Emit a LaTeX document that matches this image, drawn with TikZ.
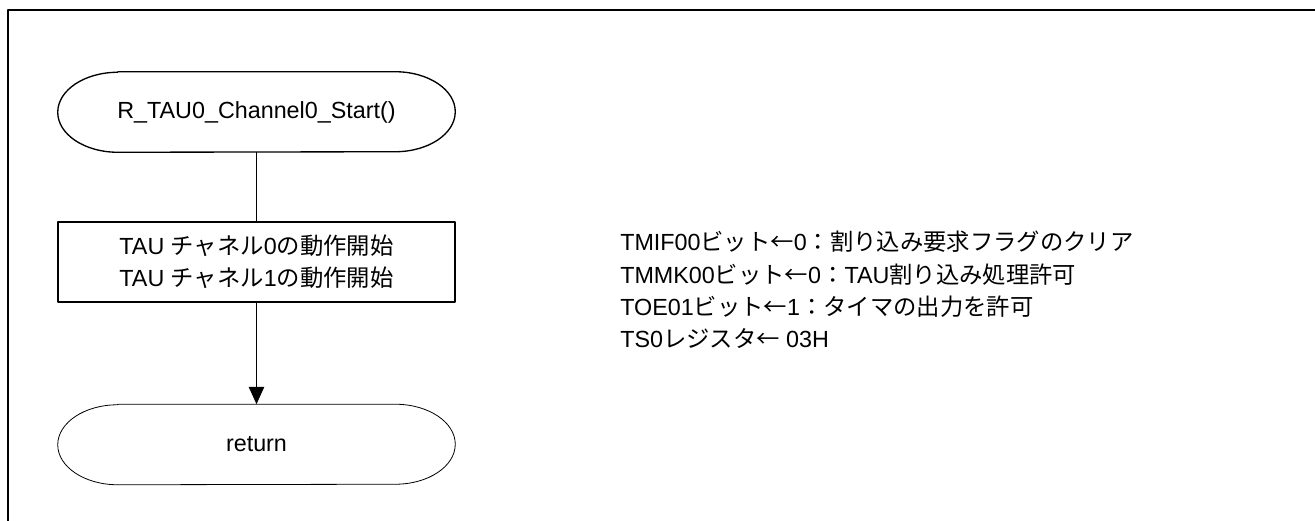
\documentclass[tikz,border=0pt]{standalone}
\usepackage{fontspec}
\setmainfont{Liberation Sans}
\newfontfamily\jp{Noto Sans CJK JP}
\usetikzlibrary{arrows.meta}
% outline of a terminal (start / return)
\newcommand{\termline}[2][1pt]{%
  \draw[line width=#1] ([xshift=45pt]#2.north west) -- ([xshift=-45pt]#2.north east)
    arc[start angle=90,end angle=-90,x radius=45pt,y radius=30pt]
    -- ([xshift=45pt]#2.south west)
    arc[start angle=270,end angle=90,x radius=45pt,y radius=30pt] -- cycle;}
\begin{document}
\begin{tikzpicture}[x=0.75pt,y=0.75pt,>={Triangle[width=11.5pt,length=13pt]},
    font=\fontsize{17.5}{24}\selectfont, line join=round,
    term/.style={minimum width=297.75pt,minimum height=60pt,inner sep=0pt},
    procbox/.style={draw,line width=1pt,minimum width=297.75pt,minimum height=60pt,align=center,inner sep=0pt},
    note/.style={anchor=base west,inner sep=0pt}]
	\useasboundingbox (0,0) rectangle (1315,-521);
	\draw[line width=1.5pt] (7.5,-521) -- (7.5,-9.5) -- (1315,-9.5);
	\node (start) [term] at (256.5,-112) {R\_TAU0\_Channel0\_Start()};
	\termline{start}
	\node (proc) [procbox] at (256.5,-262) {TAU {\jp チャネル}0{\jp の動作開始}\\TAU {\jp チャネル}1{\jp の動作開始}};
	\node (ret) [term] at (256.5,-444.5) {return};
	\termline[0.6pt]{ret}
	\draw[line width=1pt] (start) -- (proc);
	\draw[line width=1pt,->] (proc) -- (ret);
%	notes on the right
	\node (n1) [note] at (620,-250) {TMIF00{\jp ビット←}0{\jp ：割り込み要求フラグのクリア}};
	\node (n2) [note] at (620,-283) {TMMK00{\jp ビット←}0{\jp ：}TAU{\jp 割り込み処理許可}};
	\node (n3) [note] at (620,-315) {TOE01{\jp ビット←}1{\jp ：タイマの出力を許可}};
	\node (n4) [note] at (620,-347) {TS0{\jp レジスタ←} 03H};
\end{tikzpicture}
\end{document}
